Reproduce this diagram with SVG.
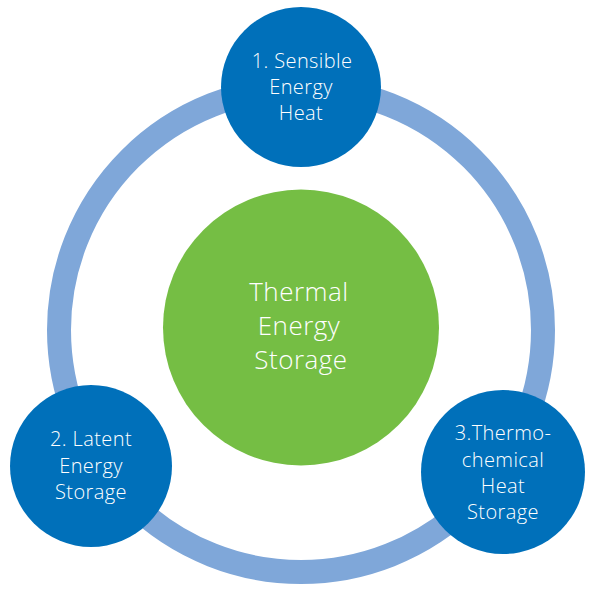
<svg xmlns="http://www.w3.org/2000/svg" width="598" height="596" viewBox="0 0 598 596">
<style>
.node{fill:#0070BA}
.hub{fill:#75BE44}
.t{font-family:"Open Sans","Noto Sans","Liberation Sans",sans-serif;font-weight:300;fill:#ffffff;text-anchor:middle}
.s{font-size:20px;letter-spacing:0.4px}
.b{font-size:26px;letter-spacing:0.5px}
</style>
<rect width="598" height="596" fill="#ffffff"/>
<g id="connectors">
<circle cx="301" cy="330" r="242" fill="none" stroke="#7FA7D9" stroke-width="24"/>
</g>
<g id="hub">
<circle class="hub" cx="301" cy="327.5" r="138"/>
<text class="t b" x="299" y="301">Thermal</text>
<text class="t b" x="299" y="335">Energy</text>
<text class="t b" x="301" y="369">Storage</text>
</g>
<g id="node1">
<circle class="node" cx="301" cy="87" r="80"/>
<text class="t s" x="302" y="68">1. Sensible</text>
<text class="t s" x="301" y="94">Energy</text>
<text class="t s" x="301" y="120">Heat</text>
</g>
<g id="node2">
<circle class="node" cx="91" cy="466" r="81"/>
<text class="t s" x="91" y="446">2. Latent</text>
<text class="t s" x="91" y="472.5">Energy</text>
<text class="t s" x="91" y="499">Storage</text>
</g>
<g id="node3">
<circle class="node" cx="503" cy="472" r="82"/>
<text class="t s" x="503" y="440">3.Thermo-</text>
<text class="t s" x="503" y="466.5">chemical</text>
<text class="t s" x="503" y="493">Heat</text>
<text class="t s" x="503" y="519">Storage</text>
</g>
</svg>
